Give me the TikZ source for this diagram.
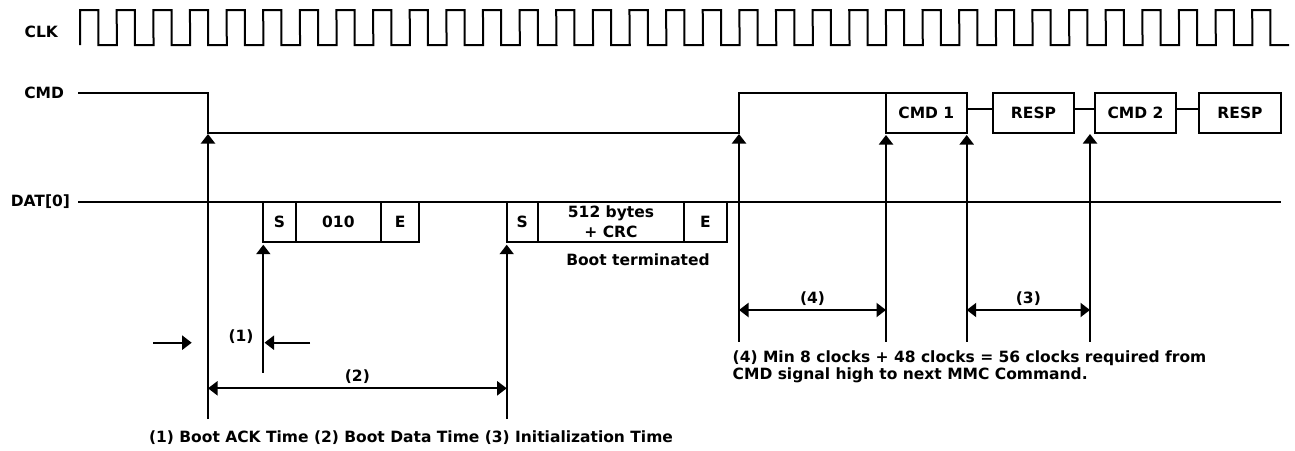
\documentclass[tikz,border=0pt]{standalone}
\usepackage{fontspec}
\setmainfont{DejaVu Sans}
\usetikzlibrary{arrows.meta}

\begin{document}
\begin{tikzpicture}[x=1pt,y=-1pt,line width=2pt,
   font=\fontsize{15.5}{17}\selectfont\bfseries,
   tip/.style={-{Triangle[length=9.5pt,width=14pt]}},
   dim/.style={{Triangle[length=9.5pt,width=14pt]}-{Triangle[length=9.5pt,width=14pt]}},
   bitbox/.style={draw,minimum height=40pt,inner sep=0pt,outer sep=0pt,anchor=north west},
   sig/.style={anchor=east,inner sep=0pt}]
\useasboundingbox (0,0) rectangle (1295,450);

% signal names
 \node [sig] (clk) at (59,32)    {CLK};
 \node [sig] (cmd) at (65,93)    {CMD};
 \node [sig] (dat) at (71,201.7) {DAT[0]};

% clock
\draw (80,45) \foreach \i in {0,...,32} {
   -- ({80+36.63*\i},10) -- ({98.3+36.63*\i},10)
   -- ({98.3+36.63*\i},45) -- ({116.93+36.63*\i},45) };

% command boxes
\node [bitbox,minimum width=80.7] (cmda)  at (886,93)  {CMD 1};
\node [bitbox,minimum width=81]   (respa) at (993,93)  {RESP};
\node [bitbox,minimum width=81]   (cmdb)  at (1095,93) {CMD 2};
\node [bitbox,minimum width=82]   (respb) at (1199,93) {RESP};

\draw ([yshift=4pt]cmda.east) -- ([yshift=4pt]respa.west);
\draw ([yshift=4pt]respa.east) -- ([yshift=4pt]cmdb.west);
\draw ([yshift=4pt]cmdb.east) -- ([yshift=4pt]respb.west);

% CMD line
\draw (78,93) -- (208,93) -- (208,133) -- (739,133) -- (739,93) -- (cmda.north west);

% DAT line
\draw (78,201.7) -- (1281,201.7);

% boot acknowledge
\node [bitbox,minimum width=32.4] (sa) at (263.3,201.7) {S};
\node [bitbox,minimum width=85.3] (acka) at (sa.north east) {010};
\node [bitbox,minimum width=38.3] (ea) at (acka.north east) {E};

% boot data
\node [bitbox,minimum width=31]    (sb) at (506.7,201.7) {S};
\node [bitbox,minimum width=146.6,align=center,font=\fontsize{15.5}{20}\selectfont\bfseries]
   (datab) at (sb.north east) {512 bytes\\+ CRC};
\node [bitbox,minimum width=42.4]  (eb) at (datab.north east) {E};
\node (term) at (638,260) {Boot terminated};

% time marks
\coordinate (ta) at (208,419);
\coordinate (tb) at (263.3,372.7);
\coordinate (tc) at (506.7,419);
\coordinate (td) at (739,341.7);
\coordinate (te) at (886,341.7);
\coordinate (tf) at (966.7,341.7);
\coordinate (tg) at (1090,341.7);

\draw [tip] (ta) -- (208,134);
\draw [tip,shorten >=3pt] (tb) -- (tb |- sa.south);
\draw [tip,shorten >=3pt] (tc) -- (tc |- sb.south);
\draw [tip] (td) -- (739,134);
\draw [tip,shorten >=2pt] (te) -- (te |- cmda.south);
\draw [tip,shorten >=2pt] (tf) -- (tf |- cmda.south);
\draw [tip] (tg) -- (1090,134);

% intervals
\draw [tip] (153,342.7) -- (191.7,342.7);
\draw [tip] (310,342.7) -- (264.5,342.7);
\node (ack) at (241,337) {(1)};
\draw [dim] (208,388.3) -- node [above] (boot) {(2)} (506.7,388.3);
\draw [dim] (739,310) -- node [above] (gap) {(4)} (886,310);
\draw [dim] (966.7,310) -- node [above] (init) {(3)} (1090,310);

% notes
\node (legend) at (411,438) {(1) Boot ACK Time (2) Boot Data Time (3) Initialization Time};
\node [anchor=north west,align=left,inner sep=0pt] (note) at (731.7,350)
   {(4) Min 8 clocks + 48 clocks = 56 clocks required from\\CMD signal high to next MMC Command.};

\end{tikzpicture}
\end{document}
